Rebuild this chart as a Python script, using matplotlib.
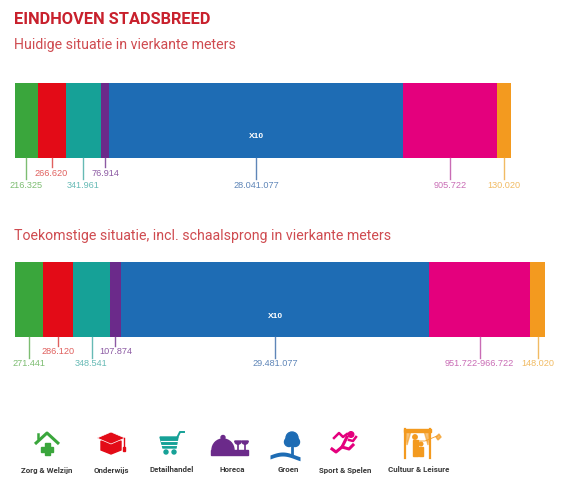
import numpy as np
import matplotlib
matplotlib.use("Agg")
import matplotlib.pyplot as plt
from matplotlib.patches import Polygon, Circle, Rectangle, Wedge

# data (m2); the blue block is drawn at 1/10 scale (X10)
categories = ["Zorg & Welzijn", "Onderwijs", "Detailhandel", "Horeca",
              "Groen", "Sport & Spelen", "Cultuur & Leisure"]
now_values = [216325, 266620, 341961, 76914, 28041077, 905722, 130020]
now_labels = ["216.325", "266.620", "341.961", "76.914", "28.041.077", "905.722", "130.020"]
future_low = [271441, 286120, 348541, 107874, 29481077, 951722, 148020]
future_high = [271441, 286120, 348541, 107874, 29481077, 966722, 148020]
future_labels = ["271.441", "286.120", "348.541", "107.874", "29.481.077",
                 "951.722-966.722", "148.020"]
scale_div = [1, 1, 1, 1, 10, 1, 1]

colors = ["#3aa63c", "#e30b17", "#16a197", "#6b2a8a", "#1e6cb4", "#e4007d", "#f39a1f"]
label_colors = ["#7dbd72", "#e0605e", "#66bab5", "#8c5aa3", "#5f86b8", "#c96cb5", "#f1bb63"]
high_label = [False, True, False, True, False, False, False]

W, H = 574, 492
px_per_k = 0.1046  # pixels per 1000 m2
x0 = 15

fig = plt.figure(figsize=(W / 100, H / 100), dpi=100)
ax = fig.add_axes([0, 0, 1, 1])
ax.set_xlim(-x0 / px_per_k * 1000, (W - x0) / px_per_k * 1000)
ax.set_ylim(H, 0)
ax.axis("off")

deco = fig.add_axes([0, 0, 1, 1], zorder=3)
deco.set_xlim(0, W)
deco.set_ylim(H, 0)
deco.axis("off")
deco.patch.set_alpha(0)

num_font = ["Liberation Sans", "DejaVu Sans"]
head_font = ["Roboto", "DejaVu Sans"]


def draw_bar(values, labels, top, height, lab_y_low, lab_y_high):
    shown = np.array(values, dtype=float) / np.array(scale_div)
    lefts = np.concatenate([[0], np.cumsum(shown)[:-1]])
    ax.barh(top + height / 2, shown, left=lefts, height=height, color=colors,
            edgecolor="none")
    bottom = top + height
    for i, (l, w) in enumerate(zip(lefts, shown)):
        cx = l + w / 2
        ly = lab_y_high if high_label[i] else lab_y_low
        ax.plot([cx, cx], [bottom, ly - 6], color=label_colors[i], lw=1.0)
        ax.text(cx, ly, labels[i], ha="center", va="center", fontsize=6.6,
                color=label_colors[i], family=num_font)
        if scale_div[i] != 1:
            ax.text(cx, top + height * 0.72, "X%d" % scale_div[i], ha="center",
                    va="center", fontsize=6, color="white", fontweight="bold",
                    family=num_font)


future_mid = [(a + b) / 2 for a, b in zip(future_low, future_high)]
draw_bar(now_values, now_labels, 83, 75, 185, 173)
draw_bar(future_mid, future_labels, 262, 75, 364, 352)

# titles
deco.text(14, 19, "EINDHOVEN STADSBREED", fontsize=11.8, fontweight="bold",
          color="#c8202c", family=head_font, va="center", ha="left")
deco.text(14, 45, "Huidige situatie in vierkante meters", fontsize=10.2,
          color="#cf4b50", family=head_font, va="center", ha="left")
deco.text(14, 236, "Toekomstige situatie, incl. schaalsprong in vierkante meters",
          fontsize=10.2, color="#cf4b50", family=head_font, va="center", ha="left")

# legend icons (simplified)
icon_x = [47, 111, 172, 232, 288, 345, 419]
for cx, name in zip(icon_x, categories):
    deco.text(cx, 470, name, ha="center", va="center", fontsize=5.7,
              fontweight="bold", color="#3a3a3a", family=head_font)

# zorg & welzijn: roof + plus
c = colors[0]
deco.plot([35, 47, 59], [444, 433, 444], color=c, lw=2.2, solid_capstyle="butt")
deco.plot([38, 38], [434, 438], color=c, lw=1.8)
deco.add_patch(Rectangle((44.5, 443), 5, 12, color=c))
deco.add_patch(Rectangle((41, 446.5), 12, 5, color=c))

# onderwijs: mortarboard
c = colors[1]
deco.add_patch(Polygon([(101, 441), (121, 441), (121, 450), (111, 454), (101, 450)], color=c))
deco.add_patch(Polygon([(97, 438), (111, 432), (125, 438), (111, 444)], color=c, ec="white", lw=0.5))
deco.plot([124, 124], [438, 449], color=c, lw=1.0)
deco.add_patch(Rectangle((123, 447), 2.2, 4, color=c))

# detailhandel: cart
c = colors[2]
deco.add_patch(Polygon([(160, 437), (178, 437), (176, 448), (163, 448)], color=c))
for yy in [440.5, 444.5]:
    deco.plot([161, 177], [yy, yy], color="white", lw=0.8)
deco.plot([177, 180, 184], [438, 432, 432], color=c, lw=1.4)
deco.add_patch(Circle((166, 452), 2, color=c))
deco.add_patch(Circle((174, 452), 2, color=c))

# horeca: cloche + glasses
c = colors[3]
deco.add_patch(Wedge((223, 450), 11, 180, 360, color=c))
deco.add_patch(Rectangle((211, 450), 37, 5, color=c))
deco.add_patch(Circle((223, 437.5), 2, color=c))
for gx in [238, 245]:
    deco.add_patch(Wedge((gx, 441), 3.2, 0, 180, color=c))
    deco.plot([gx, gx], [443, 450], color=c, lw=1.2)

# groen: tree + water
c = colors[4]
deco.add_patch(Circle((292, 438), 6, color=c))
deco.add_patch(Circle((289, 442), 4.5, color=c))
deco.add_patch(Circle((295, 442), 4.5, color=c))
deco.plot([292, 292], [444, 454], color=c, lw=2)
wx = np.linspace(270, 300, 30)
wy = 455 - 3 * np.sin((wx - 270) / 30 * np.pi * 1.2)
deco.fill_between(wx, wy, wy + 4, color=c, lw=0)

# sport & spelen: runner
c = colors[5]
deco.add_patch(Circle((351, 434.5), 2.8, color=c))
deco.plot([334, 339, 343, 347], [438, 433, 437, 434], color=c, lw=1.8)
deco.plot([347, 342, 349, 353], [437, 447, 449, 445], color=c, lw=2.2)
deco.plot([342, 336, 332], [447, 452, 449], color=c, lw=2.2)
deco.plot([349, 353, 356], [440, 441, 437], color=c, lw=1.8)

# cultuur & leisure: window with figures and kite
c = colors[6]
deco.add_patch(Rectangle((404, 429), 27, 2.5, color=c))
deco.plot([405, 405], [429, 458], color=c, lw=1.6)
deco.plot([430, 430], [429, 458], color=c, lw=1.6)
deco.add_patch(Polygon([(406, 431), (411, 431), (407, 445)], color=c, alpha=0.6))
deco.add_patch(Polygon([(429, 431), (424, 431), (428, 445)], color=c, alpha=0.6))
deco.add_patch(Circle((415, 437), 2.2, color=c))
deco.add_patch(Rectangle((412.5, 440), 5, 16, color=c))
deco.add_patch(Circle((421, 444), 1.8, color=c))
deco.add_patch(Rectangle((419, 446.5), 4, 9.5, color=c))
deco.plot([417, 425, 437], [441, 441, 436], color=c, lw=0.6)
deco.add_patch(Polygon([(436, 437), (439, 434), (441, 437), (438, 440)], color=c, alpha=0.7))

fig.savefig("out.png", dpi=100)
